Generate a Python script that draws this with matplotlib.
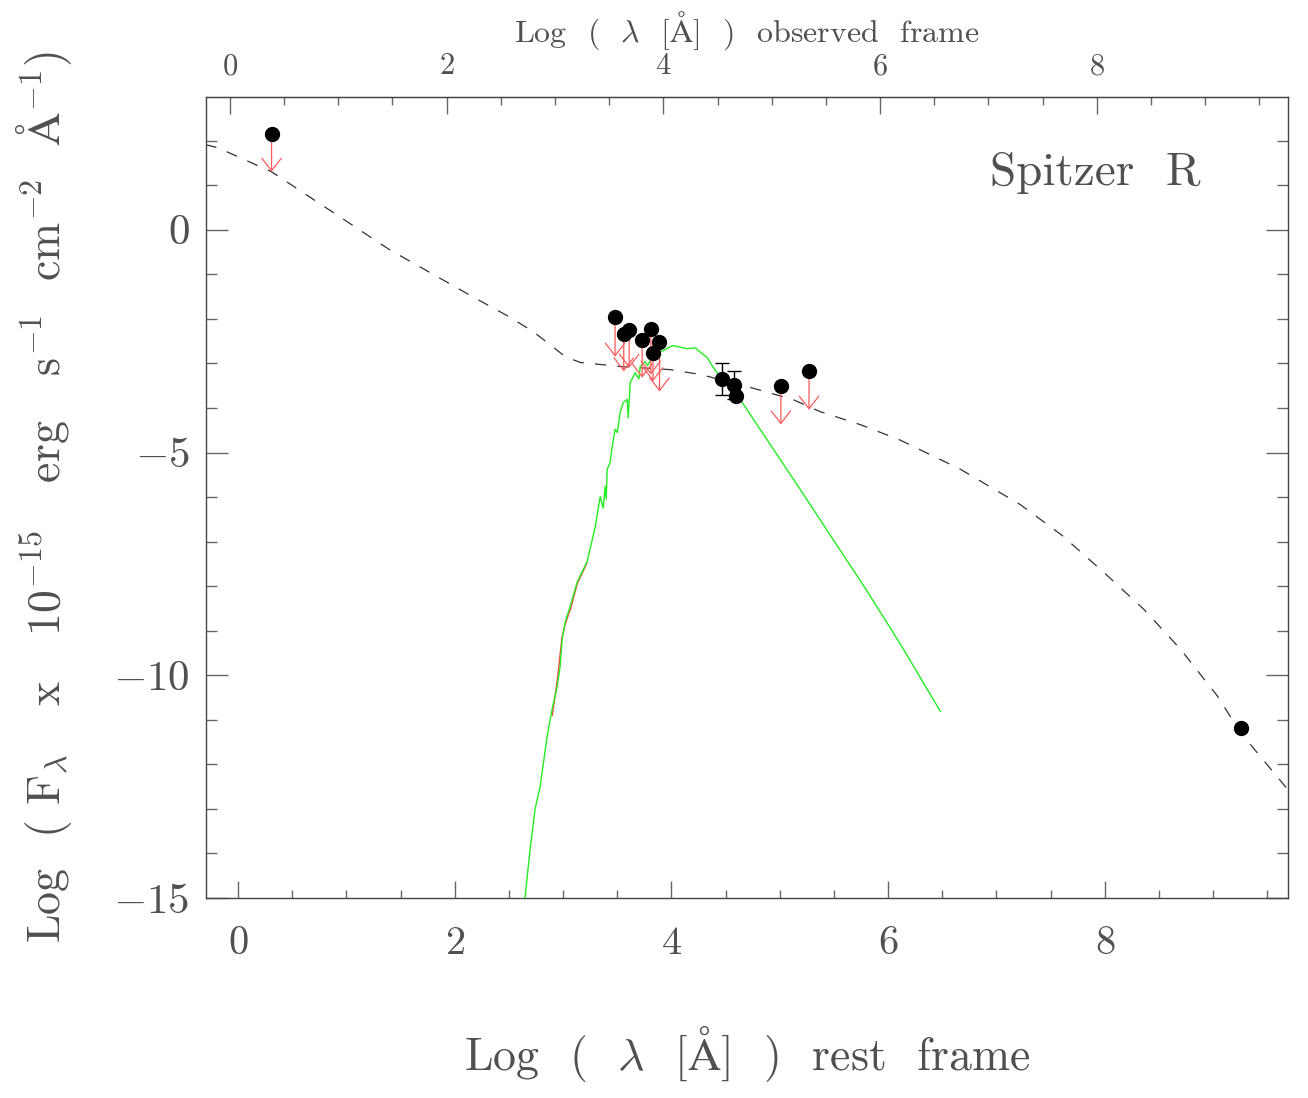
import matplotlib
matplotlib.use('Agg')
import matplotlib.pyplot as plt
from matplotlib.ticker import MultipleLocator, FixedLocator

plt.rcParams['font.family'] = 'serif'
plt.rcParams['font.serif'] = ['cmr10', 'DejaVu Serif']
plt.rcParams['mathtext.fontset'] = 'cm'
plt.rcParams['axes.formatter.use_mathtext'] = True

# redshift offset between rest and observed frame (log10(1+z))
z_shift = 0.074

# photometric upper limits: point value and arrow tip
lim_x = [0.31, 3.48, 3.56, 3.61, 3.73, 3.81, 3.83, 3.89, 5.01, 5.27]
lim_y = [2.15, -1.95, -2.33, -2.26, -2.47, -2.22, -2.76, -2.53, -3.50, -3.18]
lim_tip = [1.30, -2.85, -3.18, -3.10, -3.32, -3.25, -3.40, -3.63, -4.37, -4.04]

# detections
det_x = [4.47, 4.58, 4.60, 9.26]
det_y = [-3.34, -3.48, -3.74, -11.19]
det_err = [0.36, 0.32, 0.0, 0.0]

# dashed template
tmpl_x = [-0.30, -0.185, 0.31, 1.40, 2.20, 2.50, 2.72, 2.88, 3.02, 3.16, 3.53, 3.99, 4.27,
          4.70, 5.12, 5.37, 5.75, 6.11, 6.67, 7.22, 7.60, 7.99, 8.36, 8.70, 9.04, 9.25, 9.70]
tmpl_y = [1.91, 1.84, 1.30, -0.45, -1.55, -1.95, -2.28, -2.58, -2.85, -2.98, -3.07, -3.14,
          -3.25, -3.52, -3.81, -4.08, -4.38, -4.72, -5.38, -6.17, -6.85, -7.69, -8.52, -9.42,
          -10.47, -11.28, -12.60]

# green stellar model
star_x = [2.64, 2.696, 2.742, 2.789, 2.853, 2.899, 2.946, 2.973, 2.992, 3.019, 3.066, 3.130,
          3.223, 3.296, 3.343, 3.37, 3.389, 3.398, 3.407, 3.435, 3.453, 3.481, 3.50, 3.527,
          3.555, 3.592, 3.601, 3.620, 3.666, 3.70, 3.712, 3.758, 3.78, 3.823, 3.897, 3.943,
          3.970, 4.017, 4.146, 4.220, 4.247, 4.331, 4.386, 4.451, 4.571, 4.635, 4.912, 5.189,
          5.808, 6.113, 6.482]
star_y = [-15.2, -13.90, -13.00, -12.49, -11.37, -10.76, -10.25, -9.80, -9.19, -8.81, -8.45,
          -7.91, -7.44, -6.68, -5.99, -6.25, -5.76, -6.05, -5.38, -5.22, -4.87, -4.48, -4.55,
          -4.10, -3.88, -3.81, -4.22, -3.43, -3.21, -3.35, -3.07, -2.96, -3.05, -2.85, -2.74,
          -2.69, -2.65, -2.60, -2.67, -2.65, -2.71, -2.87, -3.09, -3.30, -3.54, -3.81, -4.82,
          -5.83, -8.12, -9.30, -10.81]

# faint red model under the green one
red_x = [2.90, 2.93, 2.95, 2.97, 2.99, 3.02, 3.07, 3.13, 3.22]
red_y = [-10.90, -10.40, -10.05, -9.60, -9.15, -8.85, -8.50, -7.95, -7.48]

fig = plt.figure(figsize=(13.08, 10.98), dpi=100)
ax = fig.add_axes([0.1575, 0.1821, 0.8272, 0.7296])

txt = '#505050'
ax.plot(tmpl_x, tmpl_y, color='#333333', lw=0.9, dashes=(9, 9), zorder=2)
ax.plot(red_x, red_y, color='#ff4040', lw=1.0, zorder=2)
ax.plot(star_x, star_y, color='#22ee22', lw=1.0, zorder=3)

for x, y, t in zip(lim_x, lim_y, lim_tip):
    ax.annotate('', xy=(x, t), xytext=(x, y),
                arrowprops=dict(arrowstyle='->,head_length=0.45,head_width=0.35',
                                mutation_scale=20, color='#ff5a5a', lw=0.9,
                                shrinkA=0, shrinkB=0), zorder=4)
ax.plot(lim_x, lim_y, 'o', color='black', ms=10, zorder=6)

for x, y, e in zip(det_x, det_y, det_err):
    if e > 0:
        ax.errorbar(x, y, yerr=e, fmt='none', ecolor='black', elinewidth=1,
                    capsize=5, capthick=1, zorder=5)
ax.plot(det_x, det_y, 'o', color='black', ms=10, zorder=6)

ax.set_xlim(-0.295, 9.69)
ax.set_ylim(-15, 2.98)

ax.xaxis.set_major_locator(MultipleLocator(2))
ax.xaxis.set_minor_locator(MultipleLocator(0.5))
ax.yaxis.set_major_locator(MultipleLocator(5))
ax.yaxis.set_minor_locator(MultipleLocator(1))
ax.tick_params(axis='x', which='major', direction='in', length=12, width=1, color='#666666',
               labelsize=29, labelcolor=txt, pad=20, top=False)
ax.tick_params(axis='x', which='minor', direction='in', length=6, width=1, color='#666666', top=False)
ax.tick_params(axis='y', which='major', direction='in', length=16, width=1, color='#666666',
               labelsize=31, labelcolor=txt, pad=12, right=True)
ax.tick_params(axis='y', which='minor', direction='in', length=8, width=1, color='#666666', right=True)
for s in ax.spines.values():
    s.set_color('#444444')
    s.set_linewidth(1)

top = ax.secondary_xaxis('top', functions=(lambda v: v + z_shift, lambda v: v - z_shift))
top.xaxis.set_major_locator(FixedLocator([0, 2, 4, 6, 8]))
top.xaxis.set_minor_locator(MultipleLocator(0.5))
top.tick_params(which='major', direction='in', length=12, width=1, color='#666666',
                labelsize=22, labelcolor=txt, pad=12)
top.tick_params(which='minor', direction='in', length=6, width=1, color='#666666')
top.spines['top'].set_color('#444444')
top.set_xlabel(r'Log  (  $\lambda$  [$\mathrm{\AA}$]  )  observed  frame', fontsize=23,
               color=txt, labelpad=8)

ax.set_xlabel(r'Log  (  $\lambda$  [$\mathrm{\AA}$]  )  rest  frame', fontsize=33, color=txt,
              labelpad=44)
ax.set_ylabel(r'Log  ( F$_\lambda$   x   10$^{-15}$   erg   s$^{-1}$  cm$^{-2}$  $\mathrm{\AA}^{-1}$)',
              fontsize=33, color=txt, labelpad=28)

ax.text(0.7246, 0.905, 'Spitzer  R', transform=ax.transAxes, fontsize=34, color=txt,
        ha='left', va='center')

fig.savefig('out.png', dpi=100)
